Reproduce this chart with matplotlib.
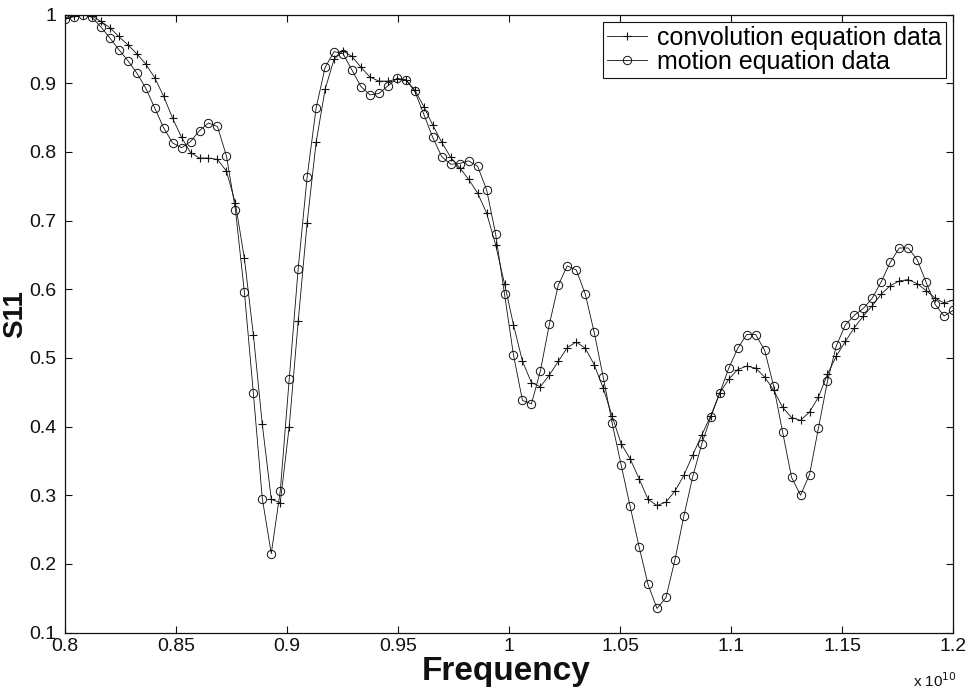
import numpy as np
import matplotlib
matplotlib.use("Agg")
import matplotlib.pyplot as plt

plt.rcParams['font.family'] = ['Liberation Sans', 'DejaVu Sans']

# Frequency sweep: 100 samples from 0.8e10 to 1.2e10 Hz
f_start, f_stop, n_points = 0.8e10, 1.2e10, 100
freq = np.linspace(f_start, f_stop, n_points)

# S11 magnitude from the convolution-equation solver
s11_convolution = [
    0.995, 0.998, 1.000, 0.998, 0.990, 0.981, 0.968, 0.956, 0.943, 0.928,
    0.908, 0.881, 0.849, 0.821, 0.799, 0.791, 0.791, 0.789, 0.772, 0.725,
    0.645, 0.534, 0.403, 0.294, 0.289, 0.400, 0.553, 0.697, 0.814, 0.891,
    0.935, 0.947, 0.939, 0.923, 0.909, 0.903, 0.903, 0.906, 0.905, 0.890,
    0.866, 0.839, 0.814, 0.792, 0.777, 0.760, 0.740, 0.711, 0.665, 0.608,
    0.548, 0.495, 0.464, 0.458, 0.475, 0.495, 0.515, 0.523, 0.514, 0.490,
    0.456, 0.415, 0.375, 0.353, 0.324, 0.294, 0.285, 0.290, 0.306, 0.329,
    0.359, 0.388, 0.416, 0.449, 0.469, 0.483, 0.488, 0.485, 0.472, 0.453,
    0.428, 0.413, 0.409, 0.421, 0.443, 0.476, 0.503, 0.524, 0.544, 0.561,
    0.576, 0.593, 0.605, 0.612, 0.614, 0.608, 0.598, 0.587, 0.580, 0.584,
]

# S11 magnitude from the equation-of-motion solver
s11_motion = [
    0.993, 0.997, 1.000, 0.996, 0.982, 0.966, 0.949, 0.933, 0.915, 0.893,
    0.864, 0.835, 0.813, 0.806, 0.815, 0.831, 0.842, 0.837, 0.794, 0.716,
    0.596, 0.449, 0.295, 0.215, 0.306, 0.469, 0.630, 0.764, 0.864, 0.923,
    0.946, 0.943, 0.919, 0.895, 0.883, 0.885, 0.896, 0.907, 0.905, 0.888,
    0.855, 0.821, 0.793, 0.782, 0.783, 0.787, 0.779, 0.745, 0.681, 0.593,
    0.504, 0.438, 0.433, 0.481, 0.549, 0.606, 0.634, 0.628, 0.593, 0.537,
    0.472, 0.405, 0.344, 0.284, 0.225, 0.170, 0.135, 0.151, 0.206, 0.270,
    0.328, 0.375, 0.414, 0.449, 0.485, 0.514, 0.534, 0.534, 0.511, 0.459,
    0.392, 0.326, 0.300, 0.330, 0.398, 0.466, 0.518, 0.548, 0.562, 0.572,
    0.587, 0.611, 0.639, 0.660, 0.660, 0.643, 0.610, 0.578, 0.561, 0.569,
]

series_labels = ['convolution equation data', 'motion equation data']

x_ticks = [0.8e10, 0.85e10, 0.9e10, 0.95e10, 1.0e10, 1.05e10, 1.1e10, 1.15e10, 1.2e10]
x_tick_labels = ['0.8', '0.85', '0.9', '0.95', '1', '1.05', '1.1', '1.15', '1.2']
y_ticks = [0.1, 0.2, 0.3, 0.4, 0.5, 0.6, 0.7, 0.8, 0.9, 1.0]
y_tick_labels = ['0.1', '0.2', '0.3', '0.4', '0.5', '0.6', '0.7', '0.8', '0.9', '1']

fig = plt.figure(figsize=(9.71, 6.95), dpi=100)
ax = fig.add_axes([0.0669, 0.0899, 0.9146, 0.8892])

ink = '#111111'
ax.plot(freq, s11_convolution, color=ink, lw=0.6, marker='+', markersize=6,
        markeredgewidth=0.8, label=series_labels[0])
ax.plot(freq, s11_motion, color=ink, lw=0.6, marker='o', markersize=6,
        markerfacecolor='none', markeredgewidth=0.7, label=series_labels[1])

ax.set_xlim(f_start, f_stop)
ax.set_ylim(0.1, 1.0)
ax.set_xticks(x_ticks)
ax.set_xticklabels(x_tick_labels)
ax.set_yticks(y_ticks)
ax.set_yticklabels(y_tick_labels)
ax.tick_params(direction='in', length=5, width=0.8, labelsize=14,
               top=True, right=True, colors=ink)
ax.tick_params(axis='y', pad=6)
ax.tick_params(axis='x', pad=4)
for spine in ax.spines.values():
    spine.set_linewidth(0.9)
    spine.set_color(ink)

ax.set_xlabel('Frequency', fontsize=24, fontweight='bold', color=ink,
              va='baseline')
ax.xaxis.set_label_coords(0.497, -0.077)
ax.set_ylabel('S11', fontsize=20, fontweight='bold', color=ink,
              va='center')
ax.yaxis.set_label_coords(-0.056, 0.515)

fig.text(0.940, 0.012, r'x 10$^{10}$', fontsize=11, color=ink,
         ha='left', va='baseline')

leg = ax.legend(loc='upper right', fontsize=18, frameon=True, fancybox=False,
                framealpha=1, edgecolor=ink, borderaxespad=0.3, borderpad=0.15,
                labelspacing=0.0, handlelength=1.6, handletextpad=0.4,
                numpoints=1)
leg.get_frame().set_linewidth(0.8)

fig.savefig('out.png', dpi=100)
